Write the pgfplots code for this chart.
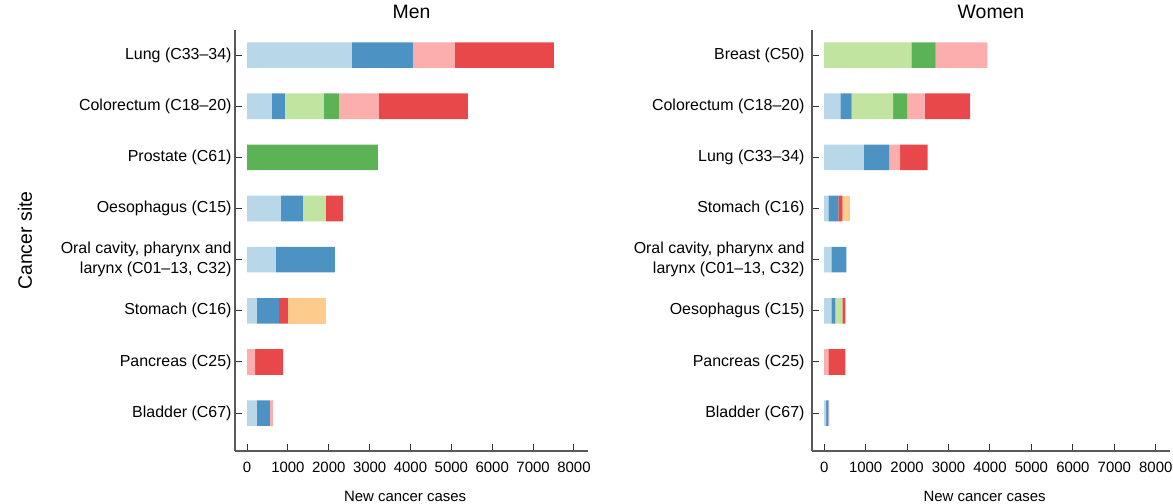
\documentclass[border=0pt]{standalone}
\usepackage{fontspec}
\setmainfont{Liberation Sans}
\usepackage{pgfplots}
\pgfplotsset{compat=1.18}
\usepackage{pgfplotstable}

\definecolor{c1}{HTML}{B8D8E9}
\definecolor{c2}{HTML}{4C93C3}
\definecolor{c3}{HTML}{C1E5A1}
\definecolor{c4}{HTML}{5CB356}
\definecolor{c5}{HTML}{FCAEAD}
\definecolor{c6}{HTML}{E9484A}
\definecolor{c7}{HTML}{FDCC8C}

% Men: Lung, Colorectum, Prostate, Oesophagus, Oral, Stomach, Pancreas, Bladder
\pgfplotstableread{
cat s1 s2 s3 s4 s5 s6 s7
0 2567 1491 0 0 1027 2421 0
1 611 318 954 367 978 2176 0
2 0 0 0 3203 0 0 0
3 831 538 562 0 0 416 0
4 709 1443 0 0 0 0 0
5 244 538 0 0 0 220 929
6 0 0 0 0 196 685 0
7 244 318 0 0 73 0 0
}\men

% Women: Breast, Colorectum, Lung, Stomach, Oral, Oesophagus, Pancreas, Bladder
\pgfplotstableread{
cat s1 s2 s3 s4 s5 s6 s7
0 0 0 2103 587 1247 0 0
1 391 269 1002 342 416 1100 0
2 954 611 0 0 269 660 0
3 98 244 0 0 0 98 171
4 171 367 0 0 0 0 0
5 171 98 171 0 0 73 0
6 0 0 0 0 98 416 0
7 49 49 0 0 24 0 0
}\women

\pgfplotsset{
  panel/.style={
    scale only axis,
    height=421bp,
    xbar stacked,
    bar width=0.5,
    y dir=reverse,
    ymin=-0.49, ymax=7.74,
    ytick={0,...,7},
    xmin=-294, xmax=8343,
    xtick={0,1000,...,8000},
    scaled x ticks=false,
    axis x line*=bottom,
    axis y line*=left,
    axis line style={black!65, line width=1.3bp},
    major tick length=7bp,
    tick style={black!80, line width=1bp},
    /pgf/number format/1000 sep={},
    /pgf/number format/assume math mode=true,
    xticklabel style={font=\fontsize{15}{18}\selectfont, yshift=-8bp},
    yticklabel style={font=\fontsize{16}{20}\selectfont, align=right},
    title style={font=\fontsize{19.5}{22}\selectfont, at={(axis description cs:0.5,1.0285)}, anchor=center},
    xlabel={New cancer cases},
    xlabel style={font=\fontsize{15}{18}\selectfont, at={(axis description cs:0.482,-0.107)}, anchor=center},
  },
}

\begin{document}
\begin{tikzpicture}
\path[use as bounding box] (0,0) rectangle (1173bp,504bp);

\begin{axis}[panel,
  at={(235bp,53bp)}, anchor=south west,
  width=353bp,
  title={Men},
  ylabel={Cancer site},
  ylabel style={font=\fontsize{19.5}{22}\selectfont, at={(axis description cs:-0.595,0.5)}, anchor=center},
  yticklabels={Lung (C33–34), Colorectum (C18–20), Prostate (C61), Oesophagus (C15), {Oral cavity, pharynx and\\larynx (C01–13, C32)}, Stomach (C16), Pancreas (C25), Bladder (C67)},
]
\addplot[fill=c1, draw=none] table[x=s1, y=cat] {\men};
\addplot[fill=c2, draw=none] table[x=s2, y=cat] {\men};
\addplot[fill=c3, draw=none] table[x=s3, y=cat] {\men};
\addplot[fill=c4, draw=none] table[x=s4, y=cat] {\men};
\addplot[fill=c5, draw=none] table[x=s5, y=cat] {\men};
\addplot[fill=c6, draw=none] table[x=s6, y=cat] {\men};
\addplot[fill=c7, draw=none] table[x=s7, y=cat] {\men};
\end{axis}

\begin{axis}[panel,
  at={(812bp,53bp)}, anchor=south west,
  width=358bp,
  title={Women},
  yticklabel style={xshift=-4bp},
  yticklabels={Breast (C50), Colorectum (C18–20), Lung (C33–34), Stomach (C16), {Oral cavity, pharynx and\\larynx (C01–13, C32)}, Oesophagus (C15), Pancreas (C25), Bladder (C67)},
]
\addplot[fill=c1, draw=none] table[x=s1, y=cat] {\women};
\addplot[fill=c2, draw=none] table[x=s2, y=cat] {\women};
\addplot[fill=c3, draw=none] table[x=s3, y=cat] {\women};
\addplot[fill=c4, draw=none] table[x=s4, y=cat] {\women};
\addplot[fill=c5, draw=none] table[x=s5, y=cat] {\women};
\addplot[fill=c6, draw=none] table[x=s6, y=cat] {\women};
\addplot[fill=c7, draw=none] table[x=s7, y=cat] {\women};
\end{axis}
\end{tikzpicture}
\end{document}
